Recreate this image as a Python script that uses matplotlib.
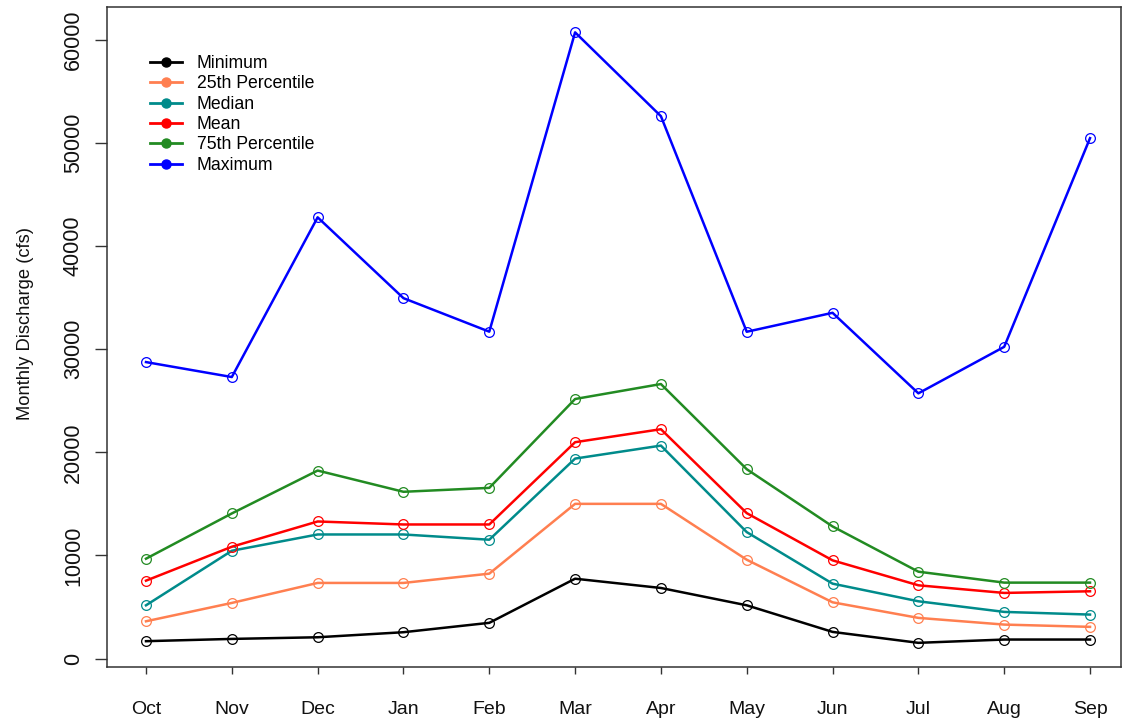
import matplotlib
matplotlib.use("Agg")
import matplotlib.pyplot as plt

plt.rcParams["font.family"] = ["Liberation Sans", "DejaVu Sans"]

# Monthly discharge statistics by water-year month (cfs)
months = ["Oct", "Nov", "Dec", "Jan", "Feb", "Mar",
          "Apr", "May", "Jun", "Jul", "Aug", "Sep"]

minimum = [1680, 1900, 2060, 2550, 3460, 7740, 6840, 5160, 2580, 1520, 1840, 1840]
pct25 = [3610, 5390, 7330, 7330, 8230, 15000, 15000, 9580, 5450, 3940, 3290, 3070]
median = [5160, 10450, 12030, 12030, 11520, 19390, 20650, 12260, 7260, 5550, 4520, 4260]
mean = [7550, 10840, 13290, 13000, 13000, 20980, 22240, 14100, 9520, 7100, 6360, 6520]
pct75 = [9680, 14070, 18230, 16170, 16550, 25170, 26620, 18360, 12810, 8420, 7360, 7360]
maximum = [28750, 27300, 42790, 34950, 31700, 60730, 52600, 31690, 33530, 25720, 30230, 50470]

series = [
    ("Minimum", minimum, "black"),
    ("25th Percentile", pct25, "#FF7F50"),
    ("Median", median, "#008B8B"),
    ("Mean", mean, "red"),
    ("75th Percentile", pct75, "#228B22"),
    ("Maximum", maximum, "blue"),
]

W, H = 1122, 724
fig = plt.figure(figsize=(W / 100, H / 100), dpi=100)
ax = fig.add_axes([107 / W, (H - 667) / H, (1121 - 107) / W, (667 - 7) / H])

x = list(range(1, len(months) + 1))
for name, vals, col in series:
    ax.plot(x, vals, color=col, lw=1.8, marker="o", markersize=7,
            markerfacecolor="none", markeredgecolor=col, markeredgewidth=0.9)

ax.set_xlim(0.5456, 12.361)
ax.set_ylim(-824, 63190)

ax.set_xticks(x)
ax.set_xticklabels(months)
ax.set_yticks([0, 10000, 20000, 30000, 40000, 50000, 60000])
ax.set_yticklabels(["0", "10000", "20000", "30000", "40000", "50000", "60000"])

for sp in ax.spines.values():
    sp.set_linewidth(1.1)
    sp.set_color("#333333")

ax.tick_params(axis="x", length=5, width=1.0, color="#333333",
               labelsize=14, pad=19.5, labelcolor="#111111")
ax.tick_params(axis="y", length=8.6, width=1.0, color="#333333",
               labelsize=15.5, pad=8, labelcolor="#111111")
for lbl in ax.get_yticklabels():
    lbl.set_rotation(90)
    lbl.set_va("center")

ax.set_ylabel("Monthly Discharge (cfs)", fontsize=13.2, color="#111111")
ax.yaxis.set_label_coords((34 - 107) / (1121 - 107), (667 - 323) / (667 - 7))

handles = [
    plt.Line2D([], [], color=col, lw=2.0, marker="o", markersize=6.5,
               markerfacecolor=col, markeredgecolor=col)
    for _, _, col in series
]
labels = [name for name, _, _ in series]
fig.legend(handles, labels, loc="upper left",
           bbox_to_anchor=(150 / W, 1 - 55 / H), bbox_transform=fig.transFigure,
           frameon=False, fontsize=12.7, handlelength=1.8, handletextpad=0.85,
           labelspacing=0.19, borderpad=0, borderaxespad=0)

fig.savefig("out.png", dpi=100)
